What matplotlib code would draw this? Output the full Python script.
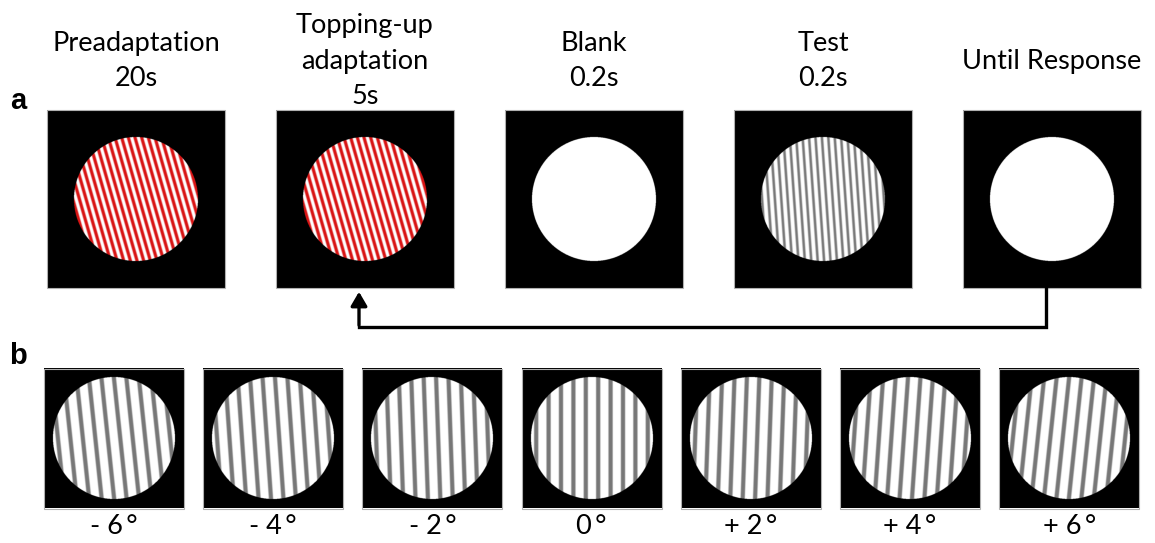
"""
Adaptation paradigm: trial sequence (a) and test grating orientations (b).
"""
import numpy as np
import matplotlib
matplotlib.use("Agg")
import matplotlib.pyplot as plt
from matplotlib.patches import Rectangle, FancyArrowPatch

plt.rcParams["font.family"] = ["Lato", "DejaVu Sans"]

# panel a: the trial sequence
stage_labels = ["Preadaptation\n20s", "Topping-up\nadaptation\n5s",
                "Blank\n0.2s", "Test\n0.2s", "Until Response"]
stage_kind = ["adapt", "adapt", "blank", "test", "blank"]
adapt_tilt = -16      # deg from vertical, negative leans "\"
test_tilt = -4

# panel b: the test orientations
test_angles = [-6, -4, -2, 0, 2, 4, 6]
angle_labels = ["- 6\u2009°", "- 4\u2009°", "- 2\u2009°", "0\u2009°",
                "+ 2\u2009°", "+ 4\u2009°", "+ 6\u2009°"]

W, H = 1155, 543
fig = plt.figure(figsize=(W / 100, H / 100), dpi=100)
ax = fig.add_axes([0, 0, 1, 1])
ax.set_xlim(0, W)
ax.set_ylim(H, 0)
ax.axis("off")

SS = 4  # supersampling


def stimulus(size, radius, tilt, period, kind, duty):
    n = int(size * SS)
    c = (np.arange(n) + 0.5) / SS - size / 2
    x, y = np.meshgrid(c, c)
    th = np.deg2rad(tilt)
    u = x * np.cos(th) + y * np.sin(th)
    ph = (u / period) % 1.0
    # soft-edged stripe profile
    d = np.abs(ph - 0.5) * period          # distance from stripe centre
    half = duty * period / 2
    s = np.clip((half + 0.6 - d) / 1.2, 0, 1)
    img = np.zeros((n, n, 3))
    inside = x ** 2 + y ** 2 <= radius ** 2
    img[inside] = 1.0
    if kind == "adapt":
        col = np.array([0.85, 0.08, 0.08])
    elif kind == "test":
        col = np.array([0.47, 0.47, 0.47])
    else:
        col = None
    if col is not None:
        g = 1.0 - s[..., None] * (1.0 - col)
        img[inside] = g[inside]
    return img


def draw_box(cx, cy, size, radius, tilt, period, kind, duty):
    img = stimulus(size, radius, tilt, period, kind, duty)
    ax.imshow(img, extent=[cx - size / 2, cx + size / 2, cy + size / 2, cy - size / 2],
              interpolation="antialiased", zorder=2)
    ax.add_patch(Rectangle((cx - size / 2, cy - size / 2), size, size, fill=False,
                           ec="#b0b0b0", lw=0.8, zorder=3))


# row a
a_x0, a_dx, a_y, a_size = 136, 229, 199, 178
a_centers = [a_x0 + i * a_dx for i in range(len(stage_labels))]
for cx, lab, kind in zip(a_centers, stage_labels, stage_kind):
    tilt = adapt_tilt if kind == "adapt" else test_tilt
    duty = 0.5 if kind == "adapt" else 0.4
    draw_box(cx, a_y, a_size, 62, tilt, 6.4, kind, duty)
    ax.text(cx, 61, lab, ha="center", va="center",
            fontsize=19.5, linespacing=1.5, color="black")

ax.text(18, 101, "a", fontsize=21, fontweight="bold", family="Liberation Sans",
        ha="center", va="center")
ax.text(18, 356, "b", fontsize=21, fontweight="bold", family="Liberation Sans",
        ha="center", va="center")

# feedback arrow from response back to topping-up adaptation
x_from, x_to = a_centers[4] - 6, a_centers[1] - 6
y_line = 327
ax.plot([x_from, x_from, x_to], [a_y + a_size / 2, y_line, y_line],
        color="black", lw=2.4, solid_joinstyle="miter", zorder=4)
ax.add_patch(FancyArrowPatch((x_to, y_line + 1), (x_to, a_y + a_size / 2 + 1),
                             arrowstyle="-|>,head_length=0.6,head_width=0.35",
                             mutation_scale=14, color="black", lw=2.4, zorder=4))

# row b
b_x0, b_dx, b_y, b_size = 114, 159.2, 438.5, 140
for i, (ang, lab) in enumerate(zip(test_angles, angle_labels)):
    cx = b_x0 + i * b_dx
    draw_box(cx, b_y, b_size, 61, ang, 12.4, "test", 0.34)
    ax.text(cx, 526, lab, ha="center", va="center", fontsize=19.5, color="black")

fig.savefig("out.png", dpi=100)
